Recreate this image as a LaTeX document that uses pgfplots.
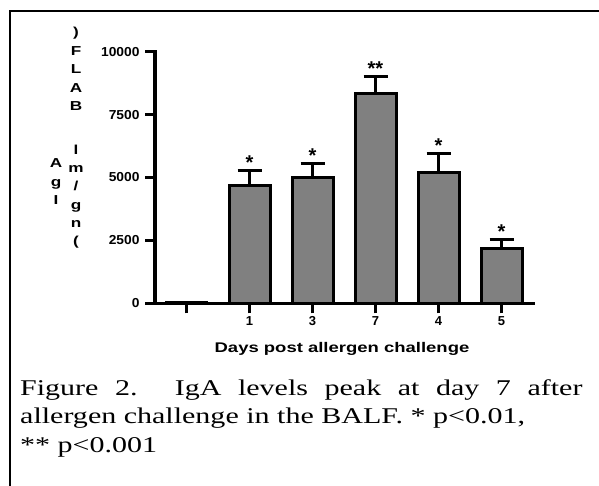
\documentclass[border=0pt]{standalone}
\usepackage{pgfplots}
\pgfplotsset{compat=1.18}
\usepackage{fontspec}
\setmainfont{Liberation Serif}
\newfontfamily\arial{Liberation Sans}

\definecolor{bargray}{RGB}{128,128,128}
% wide-set lettering used for the titles and caption
\newcommand{\wide}[1]{\scalebox{1.32}[1]{#1}}

% IgA in BALF (ng/ml): mean and upper SEM per day
\pgfplotstableread{
x  y     err
1  4680  580
2  4990  560
3  8330  700
4  5180  790
5  2160  370
}\igadata

\begin{document}
\begin{tikzpicture}
\begin{scope}[x=1pt,y=-1pt]
  % frame of the figure panel
  \draw[line width=2pt] (10,486) -- (10,11) -- (599,11);
\end{scope}

\begin{axis}[
  at={(155pt,-303.3pt)}, anchor=south west,
  scale only axis, width=378pt, height=251.6pt,
  xmin=-0.5, xmax=5.5, ymin=0, ymax=10000,
  axis x line=bottom, axis y line=left,
  axis line style={-, line width=3.5pt, line cap=rect},
  tick align=outside, major tick length=10pt,
  every tick/.style={black, line width=3pt},
  xtick={0,1,2,3,4,5},
  xticklabels={{},1,3,7,4,5},
  ytick={0,2500,5000,7500,10000},
  scaled y ticks=false,
  /pgf/number format/1000 sep={},
  /pgf/number format/assume math mode=true,
  tick label style={font=\arial\bfseries\fontsize{13}{15}\selectfont},
  yticklabel={\scalebox{1.06}[1]{\pgfmathprintnumber{\tick}}},
  yticklabel style={xshift=-2pt},
  ybar, bar width=41pt, bar shift=0pt,
  clip=false,
]
  % baseline group (day 0)
  \addplot[draw=black, line width=1.5pt, fill=bargray, bar shift=0pt] coordinates {(0,60)};
  % post-challenge days
  \addplot[draw=black, line width=3pt, fill=bargray, bar shift=0pt,
    error bars/.cd, y dir=plus, y explicit,
    error bar style={line width=3pt, black},
    error mark options={rotate=90, mark size=12pt, line width=3pt, black}]
    table[x=x, y=y, y error=err] {\igadata};

  \begin{scope}[font=\arial\bfseries\fontsize{20}{22}\selectfont]
    \node[anchor=base, yshift=1pt] at (axis cs:1,5260) {*};
    \node[anchor=base, yshift=1pt] at (axis cs:2,5550) {*};
    \node[anchor=base, yshift=1pt] at (axis cs:3,9030) {**};
    \node[anchor=base, yshift=1pt] at (axis cs:4,5970) {*};
    \node[anchor=base, yshift=1pt] at (axis cs:5,2530) {*};
  \end{scope}
\end{axis}

\begin{scope}[x=1pt,y=-1pt]
  % x-axis title
  \node[anchor=base, inner sep=0, font=\arial\bfseries\fontsize{14}{16}\selectfont]
    at (342,352) {\wide{Days post allergen challenge}};
  % y-axis title, set letter by letter
  \begin{scope}[every node/.style={anchor=base, inner sep=0,
      font=\arial\bfseries\fontsize{13}{15}\selectfont}]
    \node at (56,168) {\wide{A}};
    \node at (56,186.5) {\wide{g}};
    \node at (56,205) {\wide{I}};
    \node at (76,37) {\wide{)}};
    \node at (76,55.5) {\wide{F}};
    \node at (76,74) {\wide{L}};
    \node at (76,92.5) {\wide{A}};
    \node at (76,111) {\wide{B}};
    \node at (76,155) {\wide{l}};
    \node at (76,173) {\wide{m}};
    \node at (76,191) {\wide{/}};
    \node at (76,209.5) {\wide{g}};
    \node at (76,228) {\wide{n}};
    \node at (76,246) {\wide{(}};
  \end{scope}
  % caption
  \begin{scope}[every node/.style={anchor=base west, inner sep=0,
      font=\fontsize{22.5}{27}\selectfont}]
    \node at (20,395) {\scalebox{1.334}[1]{\makebox[421.5pt][s]{Figure 2. IgA levels peak at day 7 after}}};
    \node at (20,423.5) {\scalebox{1.334}[1]{allergen challenge in the BALF. * p<0.01,}};
    \node at (20,452) {\scalebox{1.334}[1]{** p<0.001}};
  \end{scope}
\end{scope}

\pgfresetboundingbox
\useasboundingbox (0,0) rectangle (599pt,-486pt);
\end{tikzpicture}
\end{document}
